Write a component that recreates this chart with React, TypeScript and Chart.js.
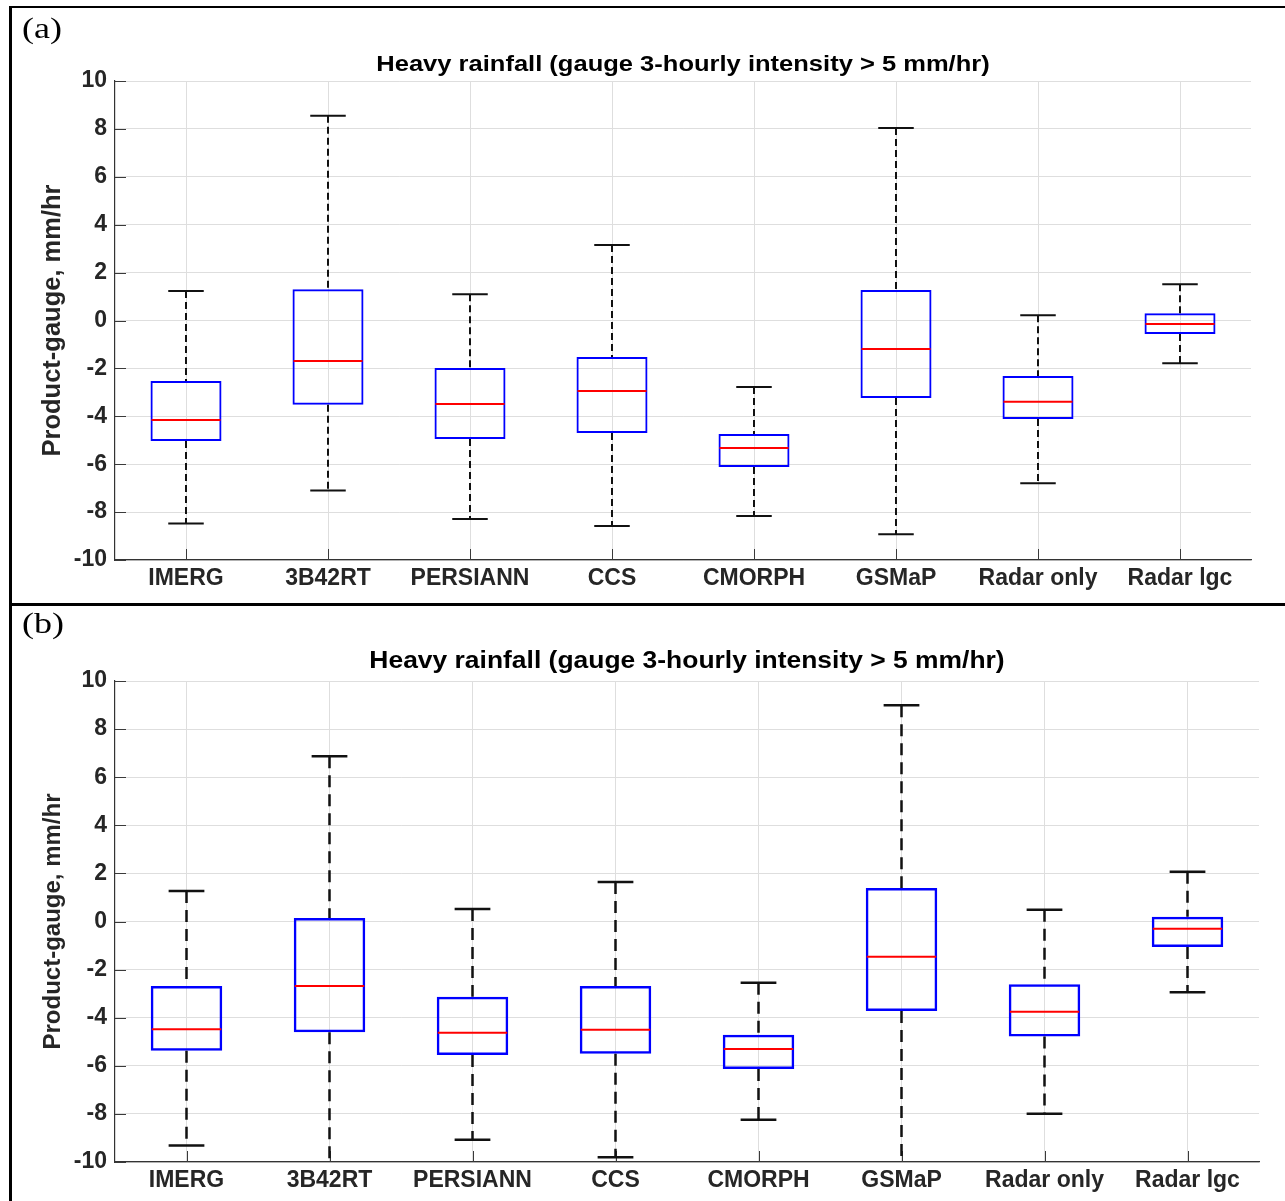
import React, { useEffect, useRef } from "react";
import { Chart, registerables } from "chart.js";

Chart.register(...registerables);

const categories = ["IMERG", "3B42RT", "PERSIANN", "CCS", "CMORPH", "GSMaP", "Radar only", "Radar lgc"];
const titleText = "Heavy rainfall (gauge 3-hourly intensity > 5 mm/hr)";
const yAxisLabel = "Product-gauge, mm/hr";
const yMin = -10;
const yMax = 10;
const yStep = 2;

// Panel (a)
const aLower = [-8.48, -7.1, -8.29, -8.58, -8.16, -8.93, -6.8, -1.79];
const aQ1 = [-5.03, -3.52, -4.95, -4.7, -6.12, -3.24, -4.11, -0.56];
const aMedian = [-4.15, -1.69, -3.49, -2.94, -5.32, -1.19, -3.39, -0.15];
const aQ3 = [-2.53, 1.31, -1.98, -1.52, -4.74, 1.27, -2.32, 0.3];
const aUpper = [1.23, 8.55, 1.1, 3.15, -2.78, 8.04, 0.22, 1.51];

// Panel (b)
const bLower = [-9.31, -10.6, -9.07, -9.8, -8.24, -10.6, -7.99, -2.94];
const bQ1 = [-5.37, -4.6, -5.55, -5.5, -6.13, -3.72, -4.78, -1.06];
const bMedian = [-4.48, -2.68, -4.63, -4.5, -5.3, -1.47, -3.75, -0.3];
const bQ3 = [-2.68, 0.15, -3.13, -2.68, -4.71, 1.39, -2.61, 0.2];
const bUpper = [1.27, 6.87, 0.52, 1.64, -2.55, 8.99, 0.49, 2.07];

const FONT = '"Liberation Sans", Arial, Helvetica, sans-serif';

type Spec = {
  lower: number[];
  q1: number[];
  median: number[];
  q3: number[];
  upper: number[];
  width: number;
  height: number;
  padTop: number;
  padRight: number;
  yAxisWidth: number;
  xAxisHeight: number;
  titleSize: number;
  titleOffset: number;
  titleStretch: number;
  yLabelSize: number;
  yLabelPad: number;
  tickSize: number;
  xTickPad: number;
  yTickPad: number;
  dash: number[];
  whiskerWidth: number;
  boxWidth: number;
};

const specA: Spec = {
  lower: aLower, q1: aQ1, median: aMedian, q3: aQ3, upper: aUpper,
  width: 1285, height: 603, padTop: 81, padRight: 34, yAxisWidth: 115, xAxisHeight: 43,
  titleSize: 22.4, titleOffset: 16, titleStretch: 1.14,
  yLabelSize: 25.5, yLabelPad: 37.2, tickSize: 23, xTickPad: 7.5, yTickPad: 8,
  dash: [7, 4], whiskerWidth: 2, boxWidth: 2,
};

const specB: Spec = {
  lower: bLower, q1: bQ1, median: bMedian, q3: bQ3, upper: bUpper,
  width: 1285, height: 597, padTop: 77, padRight: 26, yAxisWidth: 115, xAxisHeight: 39,
  titleSize: 23.2, titleOffset: 19, titleStretch: 1.14,
  yLabelSize: 24, yLabelPad: 38.6, tickSize: 23, xTickPad: 7, yTickPad: 8,
  dash: [12, 7], whiskerWidth: 2.5, boxWidth: 2.5,
};

function buildChart(canvas: HTMLCanvasElement, spec: Spec) {
  const boxPlugin = {
    id: "boxExtras",
    afterDatasetsDraw(chart: any) {
      const { ctx, chartArea, scales } = chart;
      const x = scales.x;
      const y = scales.y;
      const cat = x.getPixelForValue(1) - x.getPixelForValue(0);
      const boxHalf = cat * 0.25;
      const capHalf = cat * 0.125;
      ctx.save();
      ctx.beginPath();
      ctx.rect(chartArea.left, chartArea.top - 6, chartArea.right - chartArea.left, chartArea.bottom - chartArea.top + 6);
      ctx.clip();
      categories.forEach((_, i) => {
        const cx = x.getPixelForValue(i);
        const yL = y.getPixelForValue(spec.lower[i]);
        const y1 = y.getPixelForValue(spec.q1[i]);
        const ym = y.getPixelForValue(spec.median[i]);
        const y3 = y.getPixelForValue(spec.q3[i]);
        const yU = y.getPixelForValue(spec.upper[i]);
        ctx.strokeStyle = "#111111";
        ctx.lineWidth = spec.whiskerWidth;
        ctx.setLineDash(spec.dash);
        ctx.beginPath();
        ctx.moveTo(cx, yU);
        ctx.lineTo(cx, y3);
        ctx.stroke();
        ctx.beginPath();
        ctx.moveTo(cx, y1);
        ctx.lineTo(cx, yL);
        ctx.stroke();
        ctx.setLineDash([]);
        ctx.beginPath();
        ctx.moveTo(cx - capHalf, yU);
        ctx.lineTo(cx + capHalf, yU);
        ctx.moveTo(cx - capHalf, yL);
        ctx.lineTo(cx + capHalf, yL);
        ctx.stroke();
        ctx.strokeStyle = "#ff0000";
        ctx.lineWidth = 2;
        ctx.beginPath();
        ctx.moveTo(cx - boxHalf + 1, ym);
        ctx.lineTo(cx + boxHalf - 1, ym);
        ctx.stroke();
      });
      ctx.restore();
    },
  };

  const innerTicks = {
    id: "innerTicks",
    beforeDatasetsDraw(chart: any) {
      const { ctx, chartArea, scales } = chart;
      ctx.save();
      ctx.strokeStyle = "#3a3a3a";
      ctx.lineWidth = 1;
      ctx.beginPath();
      scales.y.ticks.forEach((t: any) => {
        const py = Math.round(scales.y.getPixelForValue(t.value)) + 0.5;
        ctx.moveTo(chartArea.left, py);
        ctx.lineTo(chartArea.left + 11, py);
      });
      categories.forEach((_, i) => {
        const px = Math.round(scales.x.getPixelForValue(i)) + 0.5;
        ctx.moveTo(px, chartArea.bottom);
        ctx.lineTo(px, chartArea.bottom - 11);
      });
      ctx.stroke();
      ctx.restore();
    },
  };

  const titlePlugin = {
    id: "panelTitle",
    afterDraw(chart: any) {
      const { ctx, chartArea } = chart;
      ctx.save();
      ctx.font = `bold ${spec.titleSize}px ${FONT}`;
      ctx.fillStyle = "#000000";
      ctx.textAlign = "center";
      ctx.textBaseline = "middle";
      ctx.translate((chartArea.left + chartArea.right) / 2, chartArea.top - spec.titleOffset);
      ctx.scale(spec.titleStretch, 1);
      ctx.fillText(titleText, 0, 0);
      ctx.restore();
    },
  };

  const gridColor = "#dedede";
  const axisColor = "#333333";
  const tickFont = { family: FONT, weight: "bold" as const, size: spec.tickSize, lineHeight: 1 };

  return new Chart(canvas, {
    type: "bar",
    data: {
      labels: categories,
      datasets: [
        {
          data: categories.map((_, i) => [spec.q1[i], spec.q3[i]]) as any,
          backgroundColor: "rgba(0,0,0,0)",
          borderColor: "#0000ff",
          borderWidth: spec.boxWidth,
          borderSkipped: false,
          barPercentage: 0.5,
          categoryPercentage: 1,
        },
      ],
    },
    options: {
      responsive: false,
      animation: false,
      devicePixelRatio: 1,
      layout: { padding: { left: 0, top: spec.padTop, right: spec.padRight, bottom: 0 } },
      plugins: {
        legend: { display: false },
        tooltip: { enabled: false },
        title: { display: false },
      },
      scales: {
        x: {
          type: "category",
          offset: true,
          grid: { color: gridColor, lineWidth: 1, drawTicks: false, offset: false },
          border: { display: true, color: axisColor, width: 1.2 },
          ticks: { color: "#262626", font: tickFont, padding: spec.xTickPad, autoSkip: false, maxRotation: 0, minRotation: 0 },
          afterFit: (s: any) => {
            s.height = spec.xAxisHeight;
          },
        },
        y: {
          type: "linear",
          min: yMin,
          max: yMax,
          grid: { color: gridColor, lineWidth: 1, drawTicks: false },
          border: { display: true, color: axisColor, width: 1.2 },
          ticks: { stepSize: yStep, color: "#262626", font: tickFont, padding: spec.yTickPad },
          title: {
            display: true,
            text: yAxisLabel,
            color: "#262626",
            font: { family: FONT, weight: "bold", size: spec.yLabelSize },
            padding: { top: spec.yLabelPad, bottom: 0 },
          },
          afterFit: (s: any) => {
            s.width = spec.yAxisWidth;
          },
        },
      },
    } as any,
    plugins: [innerTicks, boxPlugin, titlePlugin],
  });
}

function Panel({ spec, top }: { spec: Spec; top: number }) {
  const ref = useRef<HTMLCanvasElement | null>(null);
  useEffect(() => {
    if (!ref.current) return;
    const chart = buildChart(ref.current, spec);
    return () => chart.destroy();
  }, [spec]);
  return (
    <canvas
      ref={ref}
      width={spec.width}
      height={spec.height}
      style={{ position: "absolute", left: 0, top, width: spec.width, height: spec.height, display: "block" }}
    />
  );
}

const labelStyle: React.CSSProperties = {
  position: "absolute",
  left: 22,
  fontFamily: '"Liberation Serif", "Times New Roman", serif',
  fontSize: 30,
  lineHeight: "30px",
  color: "#000",
  transform: "scaleX(1.2)",
  transformOrigin: "left top",
  whiteSpace: "nowrap",
};

export default function App() {
  return (
    <div
      style={{
        position: "absolute",
        left: 0,
        top: 0,
        width: 1285,
        height: 1201,
        overflow: "hidden",
        background: "#ffffff",
      }}
    >
      <Panel spec={specA} top={0} />
      <Panel spec={specB} top={604} />
      <div style={{ position: "absolute", left: 9, top: 6, width: 1290, height: 2, background: "#000" }} />
      <div style={{ position: "absolute", left: 9, top: 6, width: 3, height: 1200, background: "#000" }} />
      <div style={{ position: "absolute", left: 9, top: 603, width: 1290, height: 3, background: "#000" }} />
      <div style={{ ...labelStyle, top: 13 }}>(a)</div>
      <div style={{ ...labelStyle, top: 608 }}>(b)</div>
    </div>
  );
}
